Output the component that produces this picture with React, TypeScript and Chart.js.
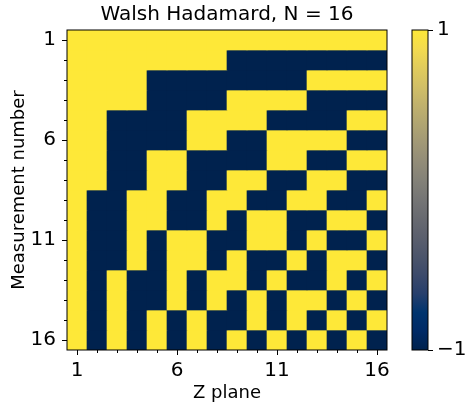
import React, { useEffect, useRef } from "react";
import { Chart, registerables } from "chart.js";

Chart.register(...registerables);

// ---- data ----
const zPlanes = [1, 2, 3, 4, 5, 6, 7, 8, 9, 10, 11, 12, 13, 14, 15, 16];
const measurements = [1, 2, 3, 4, 5, 6, 7, 8, 9, 10, 11, 12, 13, 14, 15, 16];
const xTickValues = [1, 6, 11, 16];
const yTickValues = [1, 6, 11, 16];
const colorbarTicks = [-1, 1];
const walshRows = [
  [1, 1, 1, 1, 1, 1, 1, 1, 1, 1, 1, 1, 1, 1, 1, 1],
  [1, 1, 1, 1, 1, 1, 1, 1, -1, -1, -1, -1, -1, -1, -1, -1],
  [1, 1, 1, 1, -1, -1, -1, -1, -1, -1, -1, -1, 1, 1, 1, 1],
  [1, 1, 1, 1, -1, -1, -1, -1, 1, 1, 1, 1, -1, -1, -1, -1],
  [1, 1, -1, -1, -1, -1, 1, 1, 1, 1, -1, -1, -1, -1, 1, 1],
  [1, 1, -1, -1, -1, -1, 1, 1, -1, -1, 1, 1, 1, 1, -1, -1],
  [1, 1, -1, -1, 1, 1, -1, -1, -1, -1, 1, 1, -1, -1, 1, 1],
  [1, 1, -1, -1, 1, 1, -1, -1, 1, 1, -1, -1, 1, 1, -1, -1],
  [1, -1, -1, 1, 1, -1, -1, 1, 1, -1, -1, 1, 1, -1, -1, 1],
  [1, -1, -1, 1, 1, -1, -1, 1, -1, 1, 1, -1, -1, 1, 1, -1],
  [1, -1, -1, 1, -1, 1, 1, -1, -1, 1, 1, -1, 1, -1, -1, 1],
  [1, -1, -1, 1, -1, 1, 1, -1, 1, -1, -1, 1, -1, 1, 1, -1],
  [1, -1, 1, -1, -1, 1, -1, 1, 1, -1, 1, -1, -1, 1, -1, 1],
  [1, -1, 1, -1, -1, 1, -1, 1, -1, 1, -1, 1, 1, -1, 1, -1],
  [1, -1, 1, -1, 1, -1, 1, -1, -1, 1, -1, 1, -1, 1, -1, 1],
  [1, -1, 1, -1, 1, -1, 1, -1, 1, -1, 1, -1, 1, -1, 1, -1],
];

// ---- styling ----
const FONT = "'DejaVu Sans', sans-serif";
Chart.defaults.font.family = FONT;
Chart.defaults.color = "#000";

// cividis colormap stops
const cividisStops: [number, [number, number, number]][] = [
  [0.0, [0, 34, 78]],
  [0.0588, [0, 42, 102]],
  [0.1176, [0, 52, 110]],
  [0.1765, [39, 63, 108]],
  [0.2353, [60, 74, 107]],
  [0.2941, [76, 85, 107]],
  [0.3529, [91, 95, 109]],
  [0.4118, [104, 106, 112]],
  [0.4706, [117, 117, 117]],
  [0.5294, [131, 129, 120]],
  [0.5882, [146, 140, 120]],
  [0.6471, [161, 152, 118]],
  [0.7059, [176, 165, 114]],
  [0.7647, [192, 177, 109]],
  [0.8235, [209, 191, 102]],
  [0.8824, [225, 204, 92]],
  [0.9412, [243, 219, 79]],
  [1.0, [254, 232, 56]],
];

function cividis(t: number): string {
  const tt = Math.max(0, Math.min(1, t));
  for (let i = 1; i < cividisStops.length; i++) {
    const [t1, c1] = cividisStops[i];
    const [t0, c0] = cividisStops[i - 1];
    if (tt <= t1) {
      const f = (tt - t0) / (t1 - t0 || 1);
      const c = c0.map((v, k) => Math.round(v + (c1[k] - v) * f));
      return `rgb(${c[0]},${c[1]},${c[2]})`;
    }
  }
  const c = cividisStops[cividisStops.length - 1][1];
  return `rgb(${c[0]},${c[1]},${c[2]})`;
}

const vmin = colorbarTicks[0];
const vmax = colorbarTicks[1];
const valueColor = (v: number) => cividis((v - vmin) / (vmax - vmin));

const framePlugin = {
  id: "frame",
  afterDraw(chart: any) {
    const { ctx, chartArea } = chart;
    ctx.save();
    ctx.strokeStyle = "#000";
    ctx.lineWidth = 1;
    ctx.strokeRect(chartArea.left, chartArea.top, chartArea.right - chartArea.left, chartArea.bottom - chartArea.top);
    ctx.restore();
  },
};

const minorTicksPlugin = {
  id: "minorTicks",
  afterDraw(chart: any) {
    const { ctx, chartArea, scales } = chart;
    ctx.save();
    ctx.strokeStyle = "#000";
    ctx.lineWidth = 1;
    ctx.beginPath();
    zPlanes.forEach((z) => {
      if (xTickValues.includes(z)) return;
      const x = Math.round(scales.x.getPixelForValue(z)) + 0.5;
      ctx.moveTo(x, chartArea.bottom);
      ctx.lineTo(x, chartArea.bottom + 3);
    });
    measurements.forEach((m) => {
      if (yTickValues.includes(m)) return;
      const y = Math.round(scales.y.getPixelForValue(m)) + 0.5;
      ctx.moveTo(chartArea.left, y);
      ctx.lineTo(chartArea.left - 3, y);
    });
    ctx.stroke();
    ctx.restore();
  },
};

export default function App() {
  const mainRef = useRef<HTMLCanvasElement>(null);
  const cbRef = useRef<HTMLCanvasElement>(null);

  useEffect(() => {
    const datasets = walshRows.map((row, i) => ({
      label: `Measurement ${measurements[i]}`,
      data: zPlanes.map((z) => ({ x: z, y: [measurements[i] - 0.5, measurements[i] + 0.5] })),
      backgroundColor: row.map((v) => valueColor(v)),
      borderWidth: 0,
      grouped: false,
      barPercentage: 1,
      categoryPercentage: 1,
    }));

    const main = new Chart(mainRef.current!, {
      type: "bar",
      data: { datasets: datasets as any },
      options: {
        animation: false,
        responsive: false,
        devicePixelRatio: 1,
        layout: { padding: { left: 0, right: 13, top: 0, bottom: 0 } },
        datasets: { bar: { grouped: false, barPercentage: 1, categoryPercentage: 1 } } as any,
        plugins: {
          legend: { display: false },
          tooltip: { enabled: false },
          title: {
            display: true,
            text: "Walsh Hadamard, N = 16",
            color: "#000",
            fullSize: false,
            font: { family: FONT, size: 20, weight: "normal", lineHeight: 1.2 },
            padding: { top: 3, bottom: 3 },
          },
        },
        scales: {
          x: {
            type: "linear",
            min: 0.5,
            max: 16.5,
            offset: false,
            border: { display: false },
            grid: { display: true, drawOnChartArea: false, tickLength: 5, color: "#000", offset: false },
            afterBuildTicks: (s: any) => {
              s.ticks = xTickValues.map((v) => ({ value: v }));
            },
            ticks: {
              color: "#000",
              font: { family: FONT, size: 20 },
              padding: 4,
              maxRotation: 0,
              autoSkip: false,
              callback: (v: any) => String(v),
            },
            title: {
              display: true,
              text: "Z plane",
              color: "#000",
              font: { family: FONT, size: 18 },
              padding: { top: 0, bottom: 3.5 },
            },
            afterFit: (s: any) => {
              s.height = 58;
            },
          },
          y: {
            type: "linear",
            reverse: true,
            min: 0.5,
            max: 16.5,
            border: { display: false },
            grid: { display: true, drawOnChartArea: false, tickLength: 5, color: "#000" },
            afterBuildTicks: (s: any) => {
              s.ticks = yTickValues.map((v) => ({ value: v }));
            },
            ticks: {
              color: "#000",
              font: { family: FONT, size: 20 },
              padding: 6,
              autoSkip: false,
              callback: (v: any) => String(v),
            },
            title: {
              display: true,
              text: "Measurement number",
              color: "#000",
              font: { family: FONT, size: 18 },
              padding: { top: 8.5, bottom: 0 },
            },
            afterFit: (s: any) => {
              s.width = 67;
            },
          },
        },
      },
      plugins: [framePlugin, minorTicksPlugin],
    });

    const cb = new Chart(cbRef.current!, {
      type: "bar",
      data: {
        labels: [""],
        datasets: [
          {
            data: [[colorbarTicks[0], colorbarTicks[1]]] as any,
            backgroundColor: (ctx: any) => {
              const { chart } = ctx;
              const area = chart.chartArea;
              if (!area) return valueColor(0);
              const g = chart.ctx.createLinearGradient(0, area.bottom, 0, area.top);
              cividisStops.forEach(([t, c]) => g.addColorStop(t, `rgb(${c[0]},${c[1]},${c[2]})`));
              return g;
            },
            borderWidth: 0,
            barPercentage: 1,
            categoryPercentage: 1,
          },
        ],
      },
      options: {
        animation: false,
        responsive: false,
        devicePixelRatio: 1,
        layout: { padding: { left: 32, right: 0, top: 30, bottom: 58 } },
        plugins: { legend: { display: false }, tooltip: { enabled: false } },
        scales: {
          x: { display: false },
          y: {
            position: "right",
            min: colorbarTicks[0],
            max: colorbarTicks[1],
            border: { display: false },
            grid: { display: true, drawOnChartArea: false, tickLength: 5, color: "#000" },
            afterBuildTicks: (s: any) => {
              s.ticks = colorbarTicks.map((v) => ({ value: v }));
            },
            ticks: {
              color: "#000",
              font: { family: FONT, size: 20 },
              padding: 4,
              autoSkip: false,
              callback: (v: any) => (Number(v) < 0 ? "\u2212" + Math.abs(Number(v)) : String(v)),
            },
            afterFit: (s: any) => {
              s.width = 38;
            },
          },
        },
      },
      plugins: [framePlugin],
    });

    return () => {
      main.destroy();
      cb.destroy();
    };
  }, []);

  return (
    <div style={{ position: "absolute", left: 0, top: 0, width: 466, height: 408, background: "#fff" }}>
      <canvas ref={mainRef} width={400} height={408} style={{ position: "absolute", left: 0, top: 0 }} />
      <canvas ref={cbRef} width={86} height={408} style={{ position: "absolute", left: 380, top: 0 }} />
    </div>
  );
}
